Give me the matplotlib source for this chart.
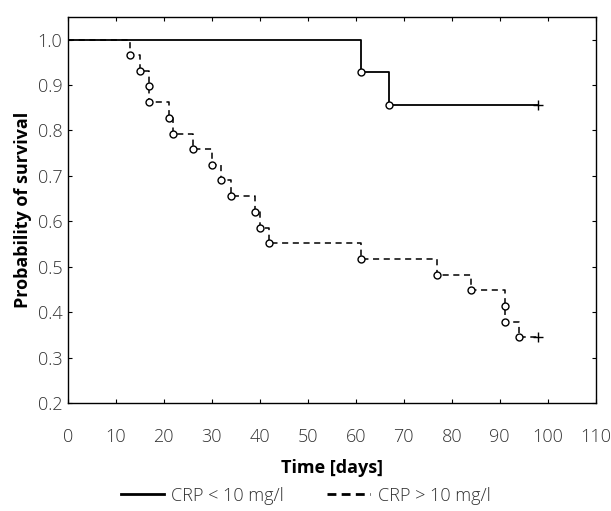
import matplotlib
matplotlib.use('Agg')
import matplotlib.pyplot as plt
from matplotlib.lines import Line2D

# CRP < 10 mg/l
low_times = [0, 61, 67]
low_surv = [1.0, 0.929, 0.857]
low_censor = 98

# CRP > 10 mg/l
high_times = [0, 13, 15, 17, 17, 21, 22, 26, 30, 32, 34, 39, 40, 42, 61, 77, 84, 91, 91, 94]
high_surv = [1.0, 0.966, 0.931, 0.897, 0.862, 0.828, 0.793, 0.759, 0.724, 0.690,
             0.655, 0.621, 0.586, 0.552, 0.517, 0.483, 0.448, 0.414, 0.379, 0.345]
high_censor = 98

x_ticks = list(range(0, 111, 10))
y_ticks = [0.2, 0.3, 0.4, 0.5, 0.6, 0.7, 0.8, 0.9, 1.0]

plt.rcParams['font.family'] = ['Open Sans', 'DejaVu Sans']

fig = plt.figure(figsize=(6.11, 5.11), dpi=100)
ax = fig.add_axes([0.111, 0.211, 0.864, 0.756])

def km(times, surv, censor, ls, lw):
    xs = times + [censor]
    ys = surv + [surv[-1]]
    ax.step(xs, ys, where='post', color='black', linestyle=ls, linewidth=lw)
    ax.plot(times[1:], surv[1:], 'o', markersize=5, markerfacecolor='white',
            markeredgecolor='black', markeredgewidth=1.0, linestyle='none')
    ax.plot([censor], [surv[-1]], '+', color='black', markersize=7, markeredgewidth=1.0)

km(high_times, high_surv, high_censor, (0, (4, 3)), 1.1)
km(low_times, low_surv, low_censor, '-', 1.3)

ax.set_xlim(0, 110)
ax.set_ylim(0.2, 1.05)
ax.set_xticks(x_ticks)
ax.set_yticks(y_ticks)
ax.set_yticklabels(['%.1f' % v for v in y_ticks])
ax.tick_params(direction='in', length=3, width=0.8, top=True, right=True,
               labelsize=13, labelcolor='#333333', pad=4)
ax.tick_params(axis='x', pad=18)
for lab in ax.get_xticklabels() + ax.get_yticklabels():
    lab.set_fontweight('light')
for s in ax.spines.values():
    s.set_linewidth(1.0)

ax.set_xlabel('Time [days]', fontsize=13, fontweight='bold', labelpad=9)
ax.set_ylabel('Probability of survival', fontsize=13, fontweight='bold', labelpad=4)

handles = [Line2D([], [], color='black', linewidth=2.0),
           Line2D([], [], color='black', linewidth=2.0, linestyle=(0, (3.2, 1.9)))]
fig.legend(handles, ['CRP < 10 mg/l', 'CRP > 10 mg/l'], loc='center',
           bbox_to_anchor=(0.5, 0.03), ncol=2, frameon=False,
           prop={'size': 13, 'weight': 'light'},
           handlelength=2.4, handletextpad=0.4, columnspacing=2.4,
           labelcolor='#333333')

fig.savefig('out.png', dpi=100)
